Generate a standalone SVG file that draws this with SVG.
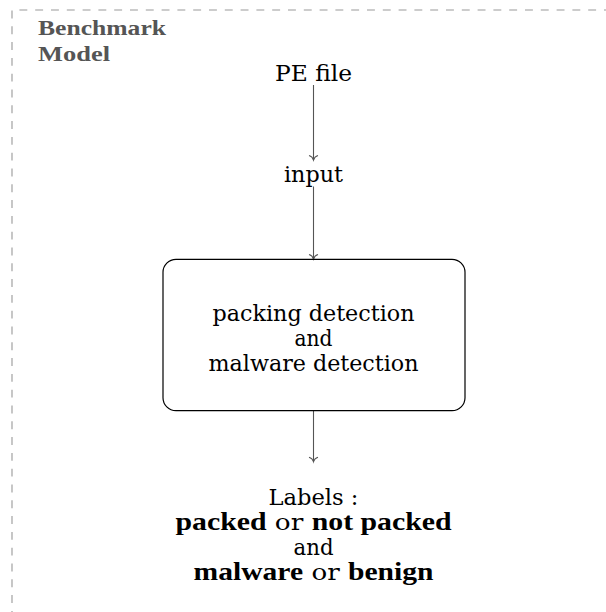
<svg xmlns="http://www.w3.org/2000/svg" width="606" height="612" viewBox="0 0 606 612">
<style>
.t{font-family:"DejaVu Serif",serif;font-size:23px;font-weight:normal;fill:#000;text-anchor:middle}
.b{font-family:"Liberation Serif",serif;font-weight:bold;font-size:26px}
.title{font-family:"Liberation Serif",serif;font-size:21px;font-weight:bold;fill:#555}
.edge{stroke:#555;stroke-width:1.1;fill:none}
</style>
<defs>
<path id="head" d="M-4.5,-4.5 Q-1,-3.5 0,0 Q1,-3.5 4.5,-4.5" stroke="#555" stroke-width="1.1" fill="none"/>
</defs>
<path d="M12,612 V10 H606" fill="none" stroke="#999" stroke-width="1.1" stroke-dasharray="7.9 7.9" stroke-dashoffset="6.8"/>
<g id="title">
<text class="title" x="38" y="35" textLength="128" lengthAdjust="spacingAndGlyphs">Benchmark</text>
<text class="title" x="38" y="60.5" textLength="72" lengthAdjust="spacingAndGlyphs">Model</text>
</g>
<g id="connectors">
<line class="edge" x1="313.5" y1="85" x2="313.5" y2="160"/>
<use href="#head" x="313.5" y="160"/>
<line class="edge" x1="313.5" y1="186.5" x2="313.5" y2="259"/>
<use href="#head" x="313.5" y="259"/>
<line class="edge" x1="313.5" y1="410.7" x2="313.5" y2="461.7"/>
<use href="#head" x="313.5" y="461.7"/>
</g>
<g id="pefile">
<text class="t" x="313.5" y="81" textLength="77" lengthAdjust="spacingAndGlyphs">PE file</text>
</g>
<g id="input">
<text class="t" x="313.5" y="182" textLength="59" lengthAdjust="spacingAndGlyphs">input</text>
</g>
<g id="detection">
<rect x="163" y="259.3" width="302" height="151.4" rx="13" ry="13" fill="none" stroke="#000" stroke-width="1.2"/>
<text class="t" x="313.5" y="321" textLength="202" lengthAdjust="spacingAndGlyphs">packing detection</text>
<text class="t" x="313.5" y="346" textLength="38" lengthAdjust="spacingAndGlyphs">and</text>
<text class="t" x="313.5" y="371" textLength="210" lengthAdjust="spacingAndGlyphs">malware detection</text>
</g>
<g id="labels">
<text class="t" x="313.5" y="505" textLength="90" lengthAdjust="spacingAndGlyphs">Labels :</text>
<text class="t" x="313.5" y="530" textLength="276" lengthAdjust="spacingAndGlyphs"><tspan class="b">packed</tspan> or <tspan class="b">not packed</tspan></text>
<text class="t" x="313.5" y="555" textLength="40" lengthAdjust="spacingAndGlyphs">and</text>
<text class="t" x="313.5" y="580" textLength="240" lengthAdjust="spacingAndGlyphs"><tspan class="b">malware</tspan> or <tspan class="b">benign</tspan></text>
</g>
</svg>
